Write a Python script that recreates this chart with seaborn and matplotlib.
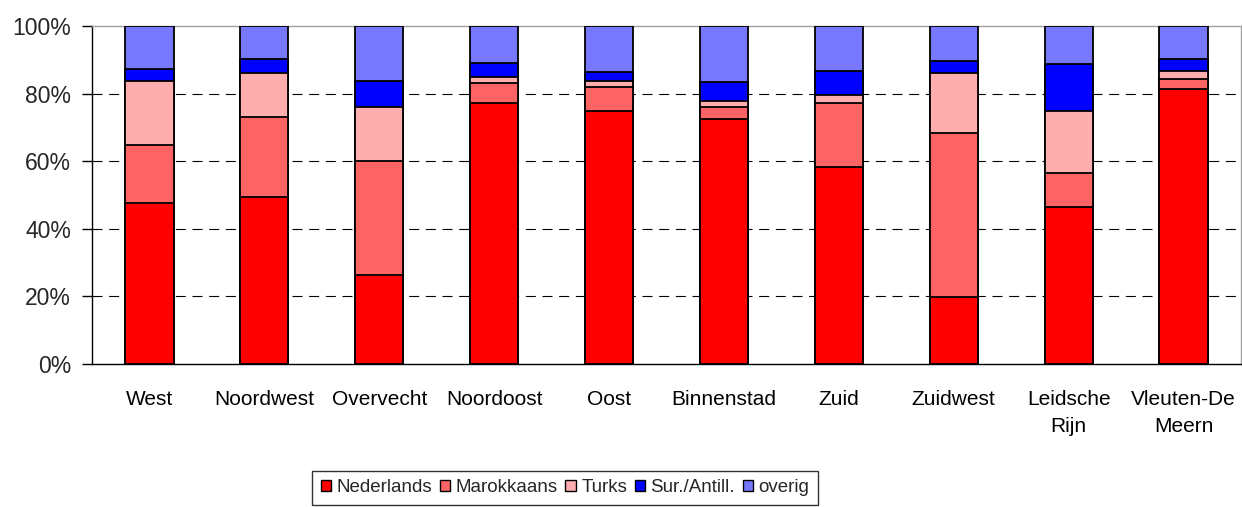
import numpy as np
import pandas as pd
import matplotlib
matplotlib.use("Agg")
import matplotlib.pyplot as plt
import seaborn as sns
from matplotlib.patches import Patch

districts = ["West", "Noordwest", "Overvecht", "Noordoost", "Oost", "Binnenstad",
             "Zuid", "Zuidwest", "Leidsche\nRijn", "Vleuten-De\nMeern"]
nederlands = [47.7, 49.5, 26.3, 77.1, 75.0, 72.6, 58.4, 19.9, 46.4, 81.5]
marokkaans = [17.2, 23.7, 33.8, 6.0, 7.1, 3.4, 18.8, 48.5, 10.2, 2.9]
turks = [18.8, 13.0, 15.9, 1.7, 1.5, 1.8, 2.4, 17.8, 18.3, 2.3]
sur_antill = [3.7, 4.1, 7.8, 4.4, 2.7, 5.5, 7.1, 3.5, 13.8, 3.4]
overig = [12.6, 9.7, 16.2, 10.8, 13.7, 16.7, 13.3, 10.3, 11.3, 9.9]

series_names = ["Nederlands", "Marokkaans", "Turks", "Sur./Antill.", "overig"]
series_vals = [nederlands, marokkaans, turks, sur_antill, overig]
colors = ["#FF0000", "#FF6464", "#FFAEB0", "#0000FF", "#7878FF"]

sns.set_style("white")
plt.rcParams["font.family"] = ["Liberation Sans", "DejaVu Sans"]

fig = plt.figure(figsize=(12.42, 5.07), dpi=100)
ax = fig.add_axes([92 / 1242, 1 - 364 / 507, (1241 - 92) / 1242, (364 - 26) / 507])

df = pd.DataFrame(dict(zip(series_names, series_vals)), index=districts)
cum = df.cumsum(axis=1)

# draw cumulative bars from the top layer down so each segment is visible
for name, col in reversed(list(zip(series_names, colors))):
    d = pd.DataFrame({"district": districts, "value": cum[name].values})
    sns.barplot(data=d, x="district", y="value", color=col, width=0.42,
                edgecolor="black", linewidth=1.3, saturation=1, ax=ax,
                order=districts, errorbar=None, zorder=3)

ax.set_xlim(-0.5, len(districts) - 0.5)
ax.set_ylim(0, 100)
ax.set_xlabel("")
ax.set_ylabel("")

ax.set_yticks([0, 20, 40, 60, 80, 100])
ax.set_yticklabels(["0%", "20%", "40%", "60%", "80%", "100%"])
for yv in [20, 40, 60, 80]:
    ax.axhline(yv, color="black", lw=0.8, linestyle=(0, (9, 6)), zorder=1)

ax.set_xticks(range(len(districts)))
ax.set_xticklabels(districts, linespacing=1.5)
ax.set_xticks(np.arange(-0.5, len(districts), 1.0), minor=True)
ax.tick_params(axis="x", which="major", length=0, pad=19, labelsize=15, colors="black")
ax.tick_params(axis="x", which="minor", length=5, width=1, color="black", direction="out")
ax.tick_params(axis="y", length=7, width=1, color="black", direction="out", pad=8,
               labelsize=16.5, left=True)

for s in ["left", "bottom"]:
    ax.spines[s].set_color("black")
    ax.spines[s].set_linewidth(1.0)
for s in ["top", "right"]:
    ax.spines[s].set_color("#A0A0A0")
    ax.spines[s].set_linewidth(1.0)
ax.grid(False)

handles = [Patch(facecolor=c, edgecolor="black", linewidth=1.0) for c in colors]
leg = fig.legend(handles, series_names, loc="upper center",
                 bbox_to_anchor=(565 / 1242, 1 - 471 / 507), ncol=5,
                 prop={"family": "Liberation Sans", "size": 13.5},
                 frameon=True, fancybox=False, edgecolor="black",
                 handlelength=0.55, handleheight=0.55, handletextpad=0.3,
                 columnspacing=0.4, borderpad=0.45, borderaxespad=0)
leg.get_frame().set_linewidth(1.0)

fig.savefig("out.png", dpi=100, facecolor="white")
